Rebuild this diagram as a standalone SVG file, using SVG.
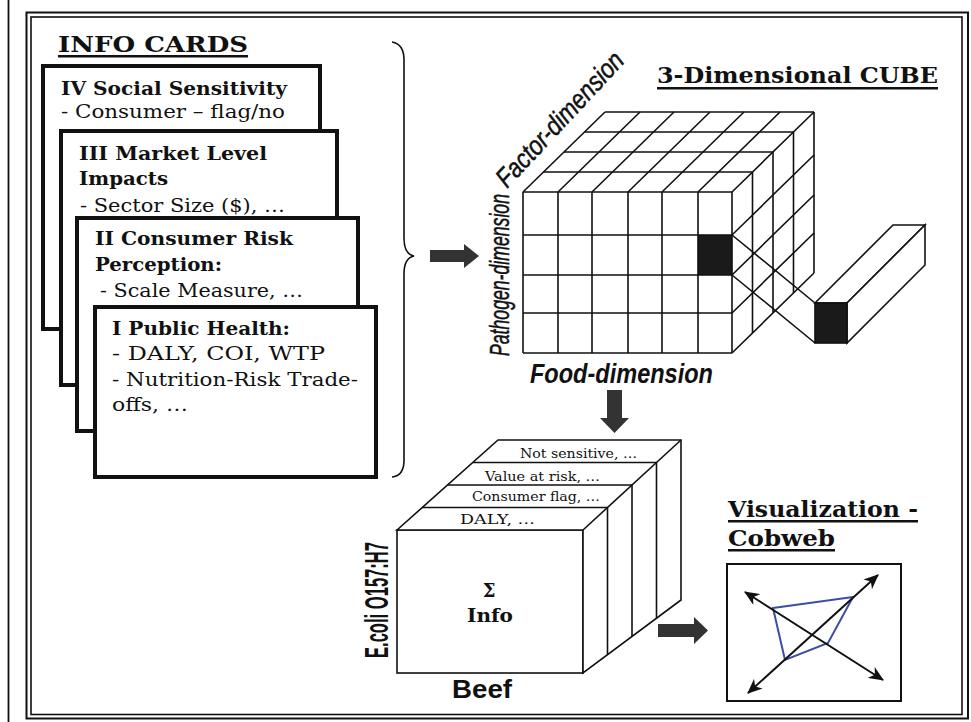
<svg xmlns="http://www.w3.org/2000/svg" width="971" height="722" viewBox="0 0 971 722">
<defs>
<style>
.card{fill:#fff;stroke:#111;stroke-width:4}
.ct{font-family:"DejaVu Serif","Liberation Serif",serif;font-size:18px;fill:#111}
.b{font-weight:bold}
.ln{stroke:#111;stroke-width:1.6;fill:none}
.lf{stroke:#111;stroke-width:1.6;fill:#fff}
.arr{fill:#333}
.sm{font-family:"DejaVu Serif","Liberation Serif",serif;font-size:13px;fill:#111}
.ttl{font-family:"DejaVu Serif","Liberation Serif",serif;font-size:23px;font-weight:bold;fill:#111}
.sans{font-family:"Liberation Sans",Arial,sans-serif;fill:#111}
.dim{font-style:italic;font-size:27px;stroke:#111;stroke-width:0.5}
</style>
<marker id="ah" viewBox="0 0 14 12" refX="13" refY="6" markerWidth="15" markerHeight="13" markerUnits="userSpaceOnUse" orient="auto-start-reverse">
<path d="M0,0 L14,6 L0,12 L4,6 z" fill="#111"/>
</marker>
</defs>
<rect width="971" height="722" fill="#fff"/>

<g id="frame" fill="none" stroke="#111">
<line x1="8.5" y1="0" x2="8.5" y2="722" stroke-width="1.8"/>
<rect x="26.5" y="12.5" width="941.5" height="706" stroke-width="2"/>
<rect x="31" y="17" width="931" height="697.5" stroke-width="1.6"/>
</g>

<g id="info-cards-title">
<text class="ttl" x="58" y="52" textLength="190" lengthAdjust="spacingAndGlyphs">INFO CARDS</text>
<rect x="58" y="55" width="190" height="2.5" fill="#111"/>
</g>

<g id="card-IV">
<rect class="card" x="43" y="66" width="277" height="263"/>
<text class="ct b" x="61" y="95" textLength="226" lengthAdjust="spacingAndGlyphs">IV Social Sensitivity</text>
<text class="ct" x="61" y="118" textLength="224" lengthAdjust="spacingAndGlyphs">- Consumer – flag/no</text>
</g>

<g id="card-III">
<rect class="card" x="61" y="131" width="276" height="254"/>
<text class="ct b" x="79" y="160" textLength="188" lengthAdjust="spacingAndGlyphs">III Market Level</text>
<text class="ct b" x="79" y="185" textLength="89" lengthAdjust="spacingAndGlyphs">Impacts</text>
<text class="ct" x="80" y="212" textLength="205" lengthAdjust="spacingAndGlyphs">- Sector Size ($), …</text>
</g>

<g id="card-II">
<rect class="card" x="77" y="218" width="281" height="213"/>
<text class="ct b" x="95" y="245" textLength="198" lengthAdjust="spacingAndGlyphs">II Consumer Risk</text>
<text class="ct b" x="95" y="271" textLength="127" lengthAdjust="spacingAndGlyphs">Perception:</text>
<text class="ct" x="100" y="297" textLength="203" lengthAdjust="spacingAndGlyphs">- Scale Measure, …</text>
</g>

<g id="card-I">
<rect class="card" x="95" y="307" width="281" height="170"/>
<text class="ct b" x="112" y="335" textLength="178" lengthAdjust="spacingAndGlyphs">I Public Health:</text>
<text class="ct" x="112" y="360" textLength="213" lengthAdjust="spacingAndGlyphs">- DALY, COI, WTP</text>
<text class="ct" x="112" y="386" textLength="246" lengthAdjust="spacingAndGlyphs">- Nutrition-Risk Trade-</text>
<text class="ct" x="112" y="411" textLength="76" lengthAdjust="spacingAndGlyphs">offs, …</text>
</g>

<g id="brace">
<path class="ln" d="M392,42 Q404,44 404,60 L404,238 Q404,254 414,256 Q404,258 404,274 L404,460 Q404,476 392,477"/>
</g>

<g id="cube">
<rect x="698" y="235" width="34" height="40" fill="#1a1a1a"/>
<g class="ln">
<path d="M523,192V353M558,192V353M592,192V353M628,192V353M662,192V353M698,192V353M732,192V353"/>
<path d="M523,192H732M523,235H732M523,275H732M523,313H732M523,353H732"/>
<path d="M523,192l82,-80M558,192l82,-80M592,192l82,-80M628,192l82,-80M662,192l82,-80M698,192l82,-80M732,192l82,-80"/>
<path d="M543.5,172H752.5M564,152H773M584.5,132H793.5M605,112H814"/>
<path d="M752.5,172V333M773,152V313M793.5,132V293M814,112V273"/>
<path d="M732,235l82,-80M732,275l82,-80M732,313l82,-80M732,353l82,-80"/>
</g>
</g>

<g id="bar">
<polygon class="lf" points="815,303 893,225 925,225 847,303"/>
<polygon class="lf" points="847,303 925,225 925,265 847,343"/>
<rect x="815" y="303" width="32" height="40" fill="#1a1a1a" stroke="#111" stroke-width="1.6"/>
</g>

<g id="cube-labels">
<text class="ttl" x="657" y="83" font-size="22" textLength="281" lengthAdjust="spacingAndGlyphs">3-Dimensional CUBE</text>
<rect x="657" y="87" width="281" height="2.5" fill="#111"/>
<text class="sans dim" transform="translate(507,189) rotate(-47)" textLength="174" lengthAdjust="spacingAndGlyphs">Factor-dimension</text>
<text class="sans dim" transform="translate(509,356) rotate(-90)" textLength="162" lengthAdjust="spacingAndGlyphs">Pathogen-dimension</text>
<text class="sans" font-style="italic" font-weight="bold" font-size="27" x="530" y="383" textLength="183" lengthAdjust="spacingAndGlyphs">Food-dimension</text>
</g>

<g id="info-cube">
<rect class="lf" x="397" y="530" width="186" height="143"/>
<polygon class="lf" points="397,530 498,440 681,440 681,600 583,673 583,530"/>
<g class="ln">
<path d="M583,530 L681,440"/>
<path d="M422,507.5H607.5M447.5,485H632M473,462.5H656.5"/>
<path d="M607.5,507.5V654.75M632,485V636.5M656.5,462.5V618.25"/>
</g>
<text class="sm" x="520" y="458" textLength="117" lengthAdjust="spacingAndGlyphs">Not sensitive, …</text>
<text class="sm" x="485" y="481" textLength="115" lengthAdjust="spacingAndGlyphs">Value at risk, …</text>
<text class="sm" x="472" y="501" textLength="128" lengthAdjust="spacingAndGlyphs">Consumer flag, …</text>
<text class="sm" x="460" y="524" textLength="75" lengthAdjust="spacingAndGlyphs">DALY, …</text>
<text class="ct b" x="489" y="597" font-size="17" text-anchor="middle">Σ</text>
<text class="ct b" x="467" y="622" font-size="20" textLength="46" lengthAdjust="spacingAndGlyphs">Info</text>
<text class="sans" font-weight="bold" font-size="34" transform="translate(388,658) rotate(-90)" textLength="116" lengthAdjust="spacingAndGlyphs">E.coli O157:H7</text>
<text class="sans" font-weight="bold" font-size="26" x="452" y="698" textLength="60" lengthAdjust="spacingAndGlyphs">Beef</text>
</g>

<g id="cobweb">
<text class="ttl" x="728" y="517" textLength="190" lengthAdjust="spacingAndGlyphs">Visualization -</text>
<rect x="728" y="520" width="190" height="2.5" fill="#111"/>
<text class="ttl" x="728" y="546" textLength="107" lengthAdjust="spacingAndGlyphs">Cobweb</text>
<rect x="728" y="549" width="107" height="2.5" fill="#111"/>
<rect x="727" y="564" width="174" height="137" fill="#fff" stroke="#111" stroke-width="2"/>
<polygon points="773,608 853,597 828,643 785,660" fill="none" stroke="#3b4ea3" stroke-width="2"/>
<line x1="745" y1="592" x2="883" y2="680" stroke="#111" stroke-width="2" marker-start="url(#ah)" marker-end="url(#ah)"/>
<line x1="748" y1="693" x2="878" y2="575" stroke="#111" stroke-width="2" marker-start="url(#ah)" marker-end="url(#ah)"/>
</g>

<g id="connectors">
<polygon class="arr" points="430,250 464,250 464,244 479,256 464,268 464,262 430,262"/>
<polygon class="arr" points="607,390 622,390 622,418 629,418 614.5,433 600,418 607,418"/>
<polygon class="arr" points="658,624 694,624 694,617 708,630.5 694,644 694,637 658,637"/>
<path class="ln" d="M732,235 L815,303 M732,275 L815,343"/>
</g>
</svg>
